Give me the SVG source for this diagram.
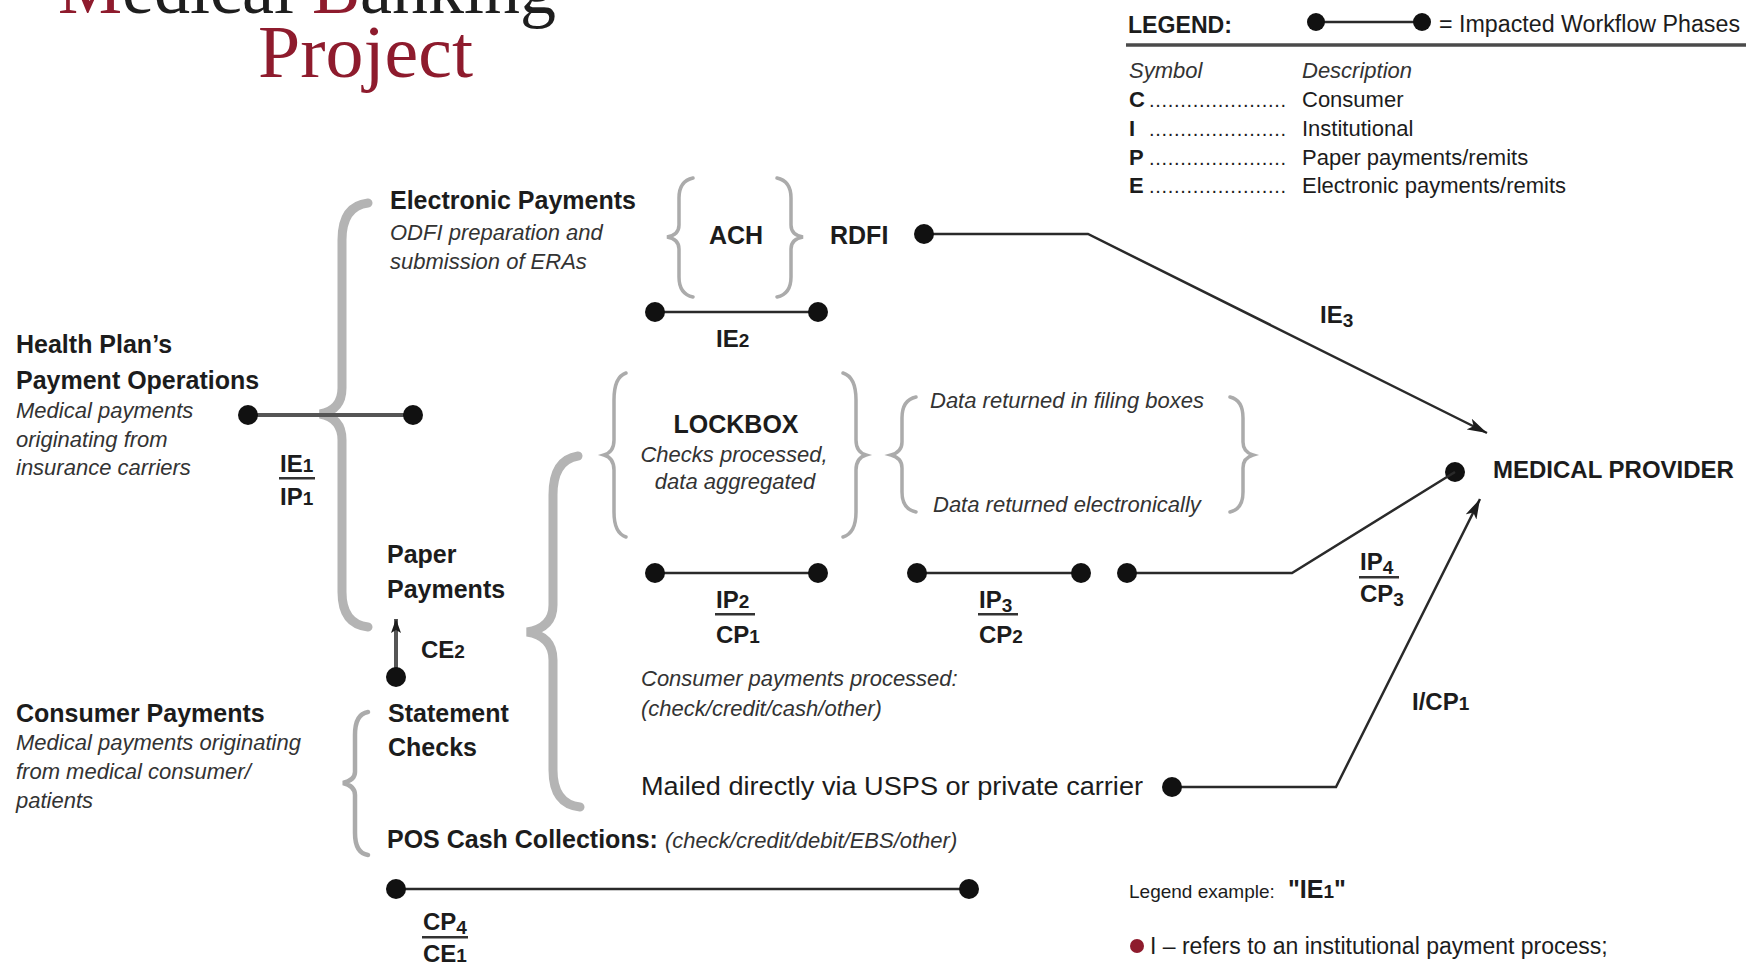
<svg xmlns="http://www.w3.org/2000/svg" width="1746" height="965" viewBox="0 0 1746 965">
<style>
text{font-family:"Liberation Sans",Arial,sans-serif;fill:#1c1c1c}
.b{font-weight:bold;font-size:25px}
.lb{font-weight:bold;font-size:24px}
.i{font-style:italic;font-size:22px;fill:#333}
.r{font-size:23px}
.sm{font-size:19px}
.ttl{font-family:"Liberation Serif","Times New Roman",serif;font-size:74px;fill:#1e1e1e}
.red{fill:#8e1b2d}
.ln{stroke:#2a2a2a;stroke-width:2.5;fill:none}
.gln{stroke:#555;stroke-width:4;fill:none}
.dot{fill:#111}
.br{stroke:#b4b4b4;stroke-width:9;fill:none;stroke-linecap:round}
.bt{stroke:#ababab;stroke-width:3.5;fill:none;stroke-linecap:round}
.bar{fill:#333}
</style>
<defs>
<marker id="arr" viewBox="0 0 20 12" refX="20" refY="6" markerWidth="20" markerHeight="12" markerUnits="userSpaceOnUse" orient="auto"><path d="M0,0 L20,6 L0,12 L5,6 z" fill="#1c1c1c"/></marker>
<marker id="arrs" viewBox="0 0 14 10" refX="14" refY="5" markerWidth="14" markerHeight="10" markerUnits="userSpaceOnUse" orient="auto"><path d="M0,0 L14,5 L0,10 L3,5 z" fill="#1c1c1c"/></marker>
</defs>
<rect width="1746" height="965" fill="#fff"/>

<g id="title">
<text class="ttl" x="58" y="13" textLength="498" lengthAdjust="spacingAndGlyphs"><tspan class="red">M</tspan><tspan>edical </tspan><tspan class="red">B</tspan><tspan>anking</tspan></text>
<text class="ttl red" x="258" y="77" textLength="215" lengthAdjust="spacingAndGlyphs">Project</text>
</g>

<g id="legend">
<text class="lb" x="1128" y="33" textLength="104" lengthAdjust="spacingAndGlyphs">LEGEND:</text>
<line class="ln" x1="1316" y1="22" x2="1422" y2="22"/>
<circle class="dot" cx="1316" cy="22" r="9"/>
<circle class="dot" cx="1422" cy="22" r="9"/>
<text class="r" x="1439" y="32" textLength="301" lengthAdjust="spacingAndGlyphs">= Impacted Workflow Phases</text>
<line x1="1126" y1="45" x2="1746" y2="45" stroke="#4a4a4a" stroke-width="3.5"/>
<text class="i" x="1129" y="78">Symbol</text>
<text class="i" x="1302" y="78">Description</text>
<text class="lb" x="1129" y="107" style="font-size:22px">C</text>
<text class="r" x="1149" y="107" textLength="137" style="font-size:20px">......................</text>
<text class="r" x="1302" y="107" style="font-size:22px">Consumer</text>
<text class="lb" x="1129" y="136" style="font-size:22px">I</text>
<text class="r" x="1149" y="136" textLength="137" style="font-size:20px">......................</text>
<text class="r" x="1302" y="136" style="font-size:22px">Institutional</text>
<text class="lb" x="1129" y="165" style="font-size:22px">P</text>
<text class="r" x="1149" y="165" textLength="137" style="font-size:20px">......................</text>
<text class="r" x="1302" y="165" style="font-size:22px">Paper payments/remits</text>
<text class="lb" x="1129" y="193" style="font-size:22px">E</text>
<text class="r" x="1149" y="193" textLength="137" style="font-size:20px">......................</text>
<text class="r" x="1302" y="193" style="font-size:22px">Electronic payments/remits</text>
</g>

<g id="health-plan">
<text class="b" x="16" y="353">Health Plan’s</text>
<text class="b" x="16" y="389">Payment Operations</text>
<text class="i" x="16" y="418">Medical payments</text>
<text class="i" x="16" y="447">originating from</text>
<text class="i" x="16" y="475">insurance carriers</text>
</g>

<g id="consumer">
<text class="b" x="16" y="722">Consumer Payments</text>
<text class="i" x="16" y="750">Medical payments originating</text>
<text class="i" x="16" y="779">from medical consumer/</text>
<text class="i" x="16" y="808">patients</text>
</g>

<g id="braces">
<path class="br" d="M368 203 Q342 206 342 240 L342 388 Q342 410 320 414 Q342 418 342 440 L342 592 Q342 624 368 627"/>
<path class="br" d="M578 456 Q553 460 553 495 L553 605 Q553 628 527 632 Q553 636 553 660 L553 770 Q553 804 580 807"/>
<path class="bt" style="stroke-width:4.5" d="M368 712 Q355 714 355 735 L355 772 Q355 780 343 783 Q355 786 355 795 L355 833 Q355 853 368 855"/>
<path class="bt" d="M693 178 Q679 181 679 198 L679 225 Q679 235 667 237 Q679 239 679 249 L679 277 Q679 294 693 297"/>
<path class="bt" d="M777 178 Q791 181 791 198 L791 225 Q791 235 803 237 Q791 239 791 249 L791 277 Q791 294 777 297"/>
<path class="bt" d="M626 373 Q614 377 614 400 L614 440 Q614 452 604 455 Q614 458 614 470 L614 512 Q614 533 626 537"/>
<path class="bt" d="M843 373 Q856 377 856 400 L856 440 Q856 452 866 455 Q856 458 856 470 L856 512 Q856 533 843 537"/>
<path class="bt" d="M916 397 Q902 400 902 418 L902 442 Q902 452 891 455 Q902 458 902 468 L902 492 Q902 509 916 512"/>
<path class="bt" d="M1230 397 Q1243 400 1243 418 L1243 442 Q1243 452 1253 455 Q1243 458 1243 468 L1243 492 Q1243 509 1230 512"/>
</g>

<g id="electronic">
<text class="b" x="390" y="209">Electronic Payments</text>
<text class="i" x="390" y="240">ODFI preparation and</text>
<text class="i" x="390" y="269">submission of ERAs</text>
</g>
<g id="ach"><text class="b" x="709" y="244">ACH</text></g>
<g id="rdfi"><text class="b" x="830" y="244">RDFI</text></g>

<g id="lockbox">
<text class="b" x="736" y="433" text-anchor="middle">LOCKBOX</text>
<text class="i" x="734" y="462" text-anchor="middle">Checks processed,</text>
<text class="i" x="735" y="489" text-anchor="middle">data aggregated</text>
</g>

<g id="data-returned">
<text class="i" x="930" y="408">Data returned in filing boxes</text>
<text class="i" x="933" y="512">Data returned electronically</text>
</g>

<g id="medical-provider">
<circle class="dot" cx="1455" cy="472" r="10"/>
<text class="lb" x="1493" y="478">MEDICAL PROVIDER</text>
</g>

<g id="paper">
<text class="b" x="387" y="563">Paper</text>
<text class="b" x="387" y="598">Payments</text>
</g>
<g id="statement">
<text class="b" x="388" y="722">Statement</text>
<text class="b" x="388" y="756">Checks</text>
</g>

<g id="consumer-processed">
<text class="i" x="641" y="686">Consumer payments processed:</text>
<text class="i" x="641" y="716">(check/credit/cash/other)</text>
</g>
<g id="mailed">
<text x="641" y="795" style="font-size:26px" textLength="502" lengthAdjust="spacingAndGlyphs">Mailed directly via USPS or private carrier</text>
</g>
<g id="pos">
<text class="b" x="387" y="848">POS Cash Collections:</text>
<text class="i" x="665" y="848">(check/credit/debit/EBS/other)</text>
</g>

<g id="connectors">
<line class="gln" x1="248" y1="415" x2="413" y2="415"/>
<line class="ln" x1="655" y1="312" x2="818" y2="312"/>
<polyline class="ln" points="924,234 1088,234 1487,433" marker-end="url(#arr)"/>
<line class="ln" x1="655" y1="573" x2="818" y2="573"/>
<line class="ln" x1="917" y1="573" x2="1081" y2="573"/>
<polyline class="ln" points="1127,573 1292,573 1455,472"/>
<polyline class="ln" points="1172,787 1336,787 1480,499" marker-end="url(#arr)"/>
<line class="gln" x1="396" y1="677" x2="396" y2="619" stroke-width="3" marker-end="url(#arrs)"/>
<line class="ln" x1="396" y1="889" x2="969" y2="889"/>
</g>

<g id="dots">
<circle class="dot" cx="248" cy="415" r="10"/>
<circle class="dot" cx="413" cy="415" r="10"/>
<circle class="dot" cx="655" cy="312" r="10"/>
<circle class="dot" cx="818" cy="312" r="10"/>
<circle class="dot" cx="924" cy="234" r="10"/>
<circle class="dot" cx="655" cy="573" r="10"/>
<circle class="dot" cx="818" cy="573" r="10"/>
<circle class="dot" cx="917" cy="573" r="10"/>
<circle class="dot" cx="1081" cy="573" r="10"/>
<circle class="dot" cx="1127" cy="573" r="10"/>
<circle class="dot" cx="1172" cy="787" r="10"/>
<circle class="dot" cx="396" cy="677" r="10"/>
<circle class="dot" cx="396" cy="889" r="10"/>
<circle class="dot" cx="969" cy="889" r="10"/>
</g>

<g id="labels">
<text class="lb" x="280" y="472">IE<tspan class="sm">1</tspan></text>
<rect class="bar" x="279" y="477" width="36" height="2.5"/>
<text class="lb" x="280" y="505">IP<tspan class="sm">1</tspan></text>

<text class="lb" x="716" y="347">IE<tspan class="sm">2</tspan></text>
<text class="lb" x="1320" y="323">IE<tspan class="sm" dy="4">3</tspan></text>

<text class="lb" x="716" y="608">IP<tspan class="sm">2</tspan></text>
<rect class="bar" x="715" y="613" width="40" height="2.5"/>
<text class="lb" x="716" y="643">CP<tspan class="sm">1</tspan></text>

<text class="lb" x="979" y="608">IP<tspan class="sm" dy="4">3</tspan></text>
<rect class="bar" x="978" y="613" width="40" height="2.5"/>
<text class="lb" x="979" y="643">CP<tspan class="sm">2</tspan></text>

<text class="lb" x="1360" y="570">IP<tspan class="sm" dy="4">4</tspan></text>
<rect class="bar" x="1359" y="576" width="40" height="2.5"/>
<text class="lb" x="1360" y="602">CP<tspan class="sm" dy="4">3</tspan></text>

<text class="lb" x="421" y="658">CE<tspan class="sm">2</tspan></text>
<text class="lb" x="1412" y="710">I/CP<tspan class="sm">1</tspan></text>

<text class="lb" x="423" y="930">CP<tspan class="sm" dy="4">4</tspan></text>
<rect class="bar" x="422" y="936" width="46" height="2.5"/>
<text class="lb" x="423" y="962">CE<tspan class="sm">1</tspan></text>
</g>

<g id="legend-example">
<text style="font-size:19px" x="1129" y="898">Legend example:</text>
<text class="lb" x="1288" y="898" style="font-size:25px">"IE<tspan class="sm">1</tspan>"</text>
<circle cx="1137" cy="946" r="7" fill="#8e1b2d"/>
<text class="r" x="1150" y="954">I – refers to an institutional payment process;</text>
</g>
</svg>
